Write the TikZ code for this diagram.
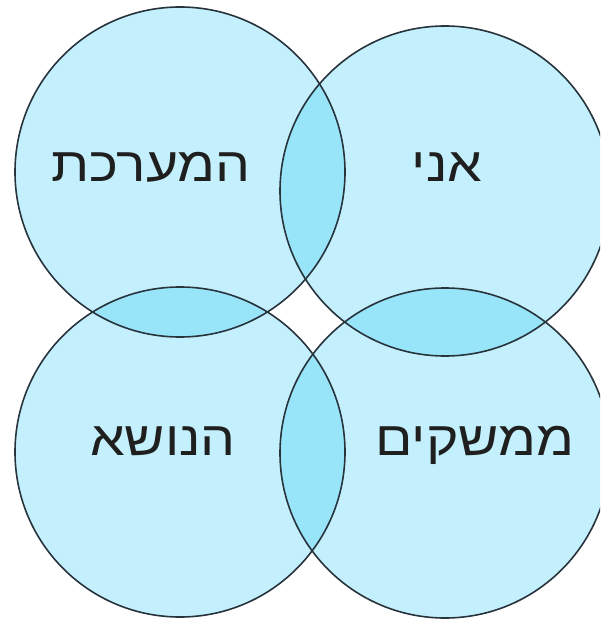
\documentclass[tikz,border=0pt]{standalone}
\usepackage{fontspec}
\newfontfamily\hebfont[Script=Hebrew, FakeStretch=1.15]{Liberation Sans}
\TeXXeTstate=1
\definecolor{ringfill}{RGB}{55,205,245}
\definecolor{ringline}{RGB}{40,52,60}

\begin{document}
\begin{tikzpicture}[x=1pt, y=-1pt, font=\hebfont\fontsize{48}{58}\selectfont]
  \tikzstyle{ring}=[circle, minimum size=330pt, inner sep=0pt, fill=ringfill, fill opacity=0.3]
  \tikzstyle{rim}=[draw=ringline, line width=1.6pt]
  \tikzstyle{lbl}=[anchor=base, inner sep=0pt, text=black!88]

  \useasboundingbox (0,0) rectangle (600,620);
  \clip (0,0) rectangle (600,620);

  % ------- circles -------
  \node[ring] (sys)   at (180,172) {};
  \node[ring] (me)    at (445,191) {};
  \node[ring] (topic) at (180,452) {};
  \node[ring] (iface) at (445,453) {};

  % outlines on top of the fills
  \foreach \c in {sys,me,topic,iface}
    \draw[rim] (\c.center) circle[radius=165pt];

  % ------- labels -------
  \node[lbl] (syslbl)   at (151,182) {\beginR המערכת\endR};
  \node[lbl] (melbl)    at (447,182) {\beginR אני\endR};
  \node[lbl] (topiclbl) at (163,455) {\beginR הנושא\endR};
  \node[lbl] (ifacelbl) at (475,455) {\beginR ממשקים\endR};
\end{tikzpicture}
\end{document}
